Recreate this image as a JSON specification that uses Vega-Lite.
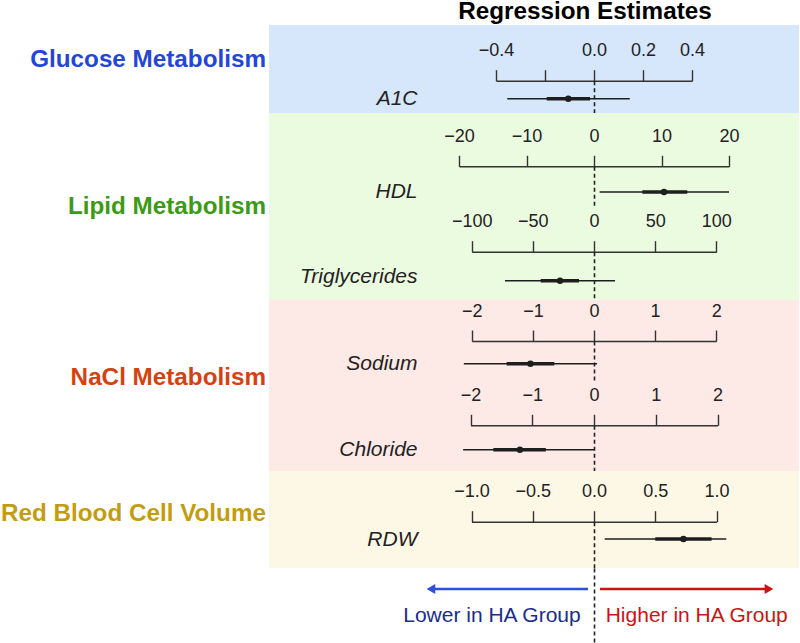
{
  "$schema": "https://vega.github.io/schema/vega-lite/v6.json",
  "autosize": {"type": "pad"},
  "padding": 0,
  "background": "white",
  "bounds": "flush",
  "spacing": 0,
  "title": {"text": "Regression Estimates", "orient": "top", "anchor": "middle", "frame": "group", "dx": 51, "offset": 0.75, "baseline": "top", "color": "#000000", "fontSize": 24.25, "fontWeight": "bold", "font": "Liberation Sans"},
  "vconcat": [
    {
      "width": 530, "height": 88,
      "view": {"fill": "#d6e6fb", "stroke": null},
      "data": {"values": [{"group": "Glucose Metabolism", "measure": "A1C", "lo": -0.354, "qlo": -0.193, "est": -0.105, "qhi": -0.016, "hi": 0.146}]},
      "encoding": {"y": {"field": "measure", "type": "nominal", "scale": {"type": "point", "range": [55.7, 88], "align": 0.557}, "axis": {"title": null}}},
      "layer": [
        {"mark": {"type": "rule", "strokeWidth": 1.5, "color": "#1e1e1e"}, "encoding": {"x": {"field": "lo", "type": "quantitative", "scale": {"domain": [-0.4, 0.4], "range": [227, 423], "nice": false, "zero": false}, "axis": {"orient": "top", "offset": -55.7, "values": [-0.4, -0.2, 0, 0.2, 0.4], "format": ".1f", "labelExpr": "abs(datum.value + 0.2) < 1e-6 ? '' : datum.label", "title": null}}, "x2": {"field": "hi"}}},
        {"mark": {"type": "rule", "strokeWidth": 3.5, "color": "#1e1e1e"}, "encoding": {"x": {"field": "qlo", "type": "quantitative", "axis": {"orient": "top", "offset": -55.7, "values": [-0.4, -0.2, 0, 0.2, 0.4], "format": ".1f", "labelExpr": "abs(datum.value + 0.2) < 1e-6 ? '' : datum.label", "title": null}}, "x2": {"field": "qhi"}}},
        {"mark": {"type": "circle", "size": 42, "opacity": 1, "color": "#1e1e1e"}, "encoding": {"x": {"field": "est", "type": "quantitative", "axis": {"orient": "top", "offset": -55.7, "values": [-0.4, -0.2, 0, 0.2, 0.4], "format": ".1f", "labelExpr": "abs(datum.value + 0.2) < 1e-6 ? '' : datum.label", "title": null}}}},
        {"mark": {"type": "text", "align": "right", "baseline": "middle", "fontSize": 24.25, "fontWeight": "bold", "color": "#2446d8", "dy": -38.7}, "encoding": {"text": {"field": "group"}, "x": {"datum": -1.3388, "type": "quantitative", "axis": {"orient": "top", "offset": -55.7, "values": [-0.4, -0.2, 0, 0.2, 0.4], "format": ".1f", "labelExpr": "abs(datum.value + 0.2) < 1e-6 ? '' : datum.label", "title": null}}}}
      ]
    },
    {
      "width": 530, "height": 93,
      "view": {"fill": "#ebfbe0", "stroke": null},
      "data": {"values": [{"group": "Lipid Metabolism", "measure": "HDL", "lo": 0.84, "qlo": 7.16, "est": 10.37, "qhi": 13.82, "hi": 20.0}]},
      "encoding": {"y": {"field": "measure", "type": "nominal", "scale": {"type": "point", "range": [53.3, 93], "align": 0.647}, "axis": {"title": null}}},
      "layer": [
        {"mark": {"type": "rule", "strokeWidth": 1.5, "color": "#1e1e1e"}, "encoding": {"x": {"field": "lo", "type": "quantitative", "scale": {"domain": [-20, 20], "range": [190, 460], "nice": false, "zero": false}, "axis": {"orient": "top", "offset": -53.3, "values": [-20, -10, 0, 10, 20], "format": "d", "title": null}}, "x2": {"field": "hi"}}},
        {"mark": {"type": "rule", "strokeWidth": 3.5, "color": "#1e1e1e"}, "encoding": {"x": {"field": "qlo", "type": "quantitative", "axis": {"orient": "top", "offset": -53.3, "values": [-20, -10, 0, 10, 20], "format": "d", "title": null}}, "x2": {"field": "qhi"}}},
        {"mark": {"type": "circle", "size": 42, "opacity": 1, "color": "#1e1e1e"}, "encoding": {"x": {"field": "est", "type": "quantitative", "axis": {"orient": "top", "offset": -53.3, "values": [-20, -10, 0, 10, 20], "format": "d", "title": null}}}},
        {"mark": {"type": "text", "align": "right", "baseline": "middle", "fontSize": 24.25, "fontWeight": "bold", "color": "#3c9b14", "dy": 15.5}, "encoding": {"text": {"field": "group"}, "x": {"datum": -48.59, "type": "quantitative", "axis": {"orient": "top", "offset": -53.3, "values": [-20, -10, 0, 10, 20], "format": "d", "title": null}}}}
      ]
    },
    {
      "width": 530, "height": 94,
      "view": {"fill": "#ebfbe0", "stroke": null},
      "data": {"values": [{"group": "Lipid Metabolism", "measure": "Triglycerides", "lo": -72.8, "qlo": -43.6, "est": -27.8, "qhi": -12.3, "hi": 17.2}]},
      "encoding": {"y": {"field": "measure", "type": "nominal", "scale": {"type": "point", "range": [45.7, 94], "align": 0.6}, "axis": {"title": null, "labelOffset": -4}}},
      "layer": [
        {"mark": {"type": "rule", "strokeWidth": 1.5, "color": "#1e1e1e"}, "encoding": {"x": {"field": "lo", "type": "quantitative", "scale": {"domain": [-100, 100], "range": [202.7, 447.3], "nice": false, "zero": false}, "axis": {"orient": "top", "offset": -45.7, "values": [-100, -50, 0, 50, 100], "format": "d", "title": null}}, "x2": {"field": "hi"}}},
        {"mark": {"type": "rule", "strokeWidth": 3.5, "color": "#1e1e1e"}, "encoding": {"x": {"field": "qlo", "type": "quantitative", "axis": {"orient": "top", "offset": -45.7, "values": [-100, -50, 0, 50, 100], "format": "d", "title": null}}, "x2": {"field": "qhi"}}},
        {"mark": {"type": "circle", "size": 42, "opacity": 1, "color": "#1e1e1e"}, "encoding": {"x": {"field": "est", "type": "quantitative", "axis": {"orient": "top", "offset": -45.7, "values": [-100, -50, 0, 50, 100], "format": "d", "title": null}}}}
      ]
    },
    {
      "width": 530, "height": 83,
      "view": {"fill": "#fde9e5", "stroke": null},
      "data": {"values": [{"group": "NaCl Metabolism", "measure": "Sodium", "lo": -2.13, "qlo": -1.43, "est": -1.04, "qhi": -0.65, "hi": 0.05}]},
      "encoding": {"y": {"field": "measure", "type": "nominal", "scale": {"type": "point", "range": [41, 83], "align": 0.54}, "axis": {"title": null}}},
      "layer": [
        {"mark": {"type": "rule", "strokeWidth": 1.5, "color": "#1e1e1e"}, "encoding": {"x": {"field": "lo", "type": "quantitative", "scale": {"domain": [-2, 2], "range": [202.8, 447.2], "nice": false, "zero": false}, "axis": {"orient": "top", "offset": -41, "values": [-2, -1, 0, 1, 2], "format": "d", "title": null}}, "x2": {"field": "hi"}}},
        {"mark": {"type": "rule", "strokeWidth": 3.5, "color": "#1e1e1e"}, "encoding": {"x": {"field": "qlo", "type": "quantitative", "axis": {"orient": "top", "offset": -41, "values": [-2, -1, 0, 1, 2], "format": "d", "title": null}}, "x2": {"field": "qhi"}}},
        {"mark": {"type": "circle", "size": 42, "opacity": 1, "color": "#1e1e1e"}, "encoding": {"x": {"field": "est", "type": "quantitative", "axis": {"orient": "top", "offset": -41, "values": [-2, -1, 0, 1, 2], "format": "d", "title": null}}}},
        {"mark": {"type": "text", "align": "right", "baseline": "middle", "fontSize": 24.25, "fontWeight": "bold", "color": "#d3420f", "dy": 14.6}, "encoding": {"text": {"field": "group"}, "x": {"datum": -5.368, "type": "quantitative", "axis": {"orient": "top", "offset": -41, "values": [-2, -1, 0, 1, 2], "format": "d", "title": null}}}}
      ]
    },
    {
      "width": 530, "height": 88,
      "view": {"fill": "#fde9e5", "stroke": null},
      "data": {"values": [{"group": "NaCl Metabolism", "measure": "Chloride", "lo": -2.12, "qlo": -1.63, "est": -1.2, "qhi": -0.78, "hi": 0.0}]},
      "encoding": {"y": {"field": "measure", "type": "nominal", "scale": {"type": "point", "range": [42.3, 88], "align": 0.534}, "axis": {"title": null}}},
      "layer": [
        {"mark": {"type": "rule", "strokeWidth": 1.5, "color": "#1e1e1e"}, "encoding": {"x": {"field": "lo", "type": "quantitative", "scale": {"domain": [-2, 2], "range": [201.5, 448.5], "nice": false, "zero": false}, "axis": {"orient": "top", "offset": -42.3, "values": [-2, -1, 0, 1, 2], "format": "d", "title": null}}, "x2": {"field": "hi"}}},
        {"mark": {"type": "rule", "strokeWidth": 3.5, "color": "#1e1e1e"}, "encoding": {"x": {"field": "qlo", "type": "quantitative", "axis": {"orient": "top", "offset": -42.3, "values": [-2, -1, 0, 1, 2], "format": "d", "title": null}}, "x2": {"field": "qhi"}}},
        {"mark": {"type": "circle", "size": 42, "opacity": 1, "color": "#1e1e1e"}, "encoding": {"x": {"field": "est", "type": "quantitative", "axis": {"orient": "top", "offset": -42.3, "values": [-2, -1, 0, 1, 2], "format": "d", "title": null}}}}
      ]
    },
    {
      "width": 530, "height": 97,
      "view": {"fill": "#fdf8e5", "stroke": null},
      "data": {"values": [{"group": "Red Blood Cell Volume", "measure": "RDW", "lo": 0.087, "qlo": 0.5, "est": 0.73, "qhi": 0.96, "hi": 1.08}]},
      "encoding": {"y": {"field": "measure", "type": "nominal", "scale": {"type": "point", "range": [50.7, 97], "align": 0.374}, "axis": {"title": null}}},
      "layer": [
        {"mark": {"type": "rule", "strokeWidth": 1.5, "color": "#1e1e1e"}, "encoding": {"x": {"field": "lo", "type": "quantitative", "scale": {"domain": [-1, 1], "range": [202.5, 447.5], "nice": false, "zero": false}, "axis": {"orient": "top", "offset": -50.7, "values": [-1, -0.5, 0, 0.5, 1], "format": ".1f", "title": null}}, "x2": {"field": "hi"}}},
        {"mark": {"type": "rule", "strokeWidth": 3.5, "color": "#1e1e1e"}, "encoding": {"x": {"field": "qlo", "type": "quantitative", "axis": {"orient": "top", "offset": -50.7, "values": [-1, -0.5, 0, 0.5, 1], "format": ".1f", "title": null}}, "x2": {"field": "qhi"}}},
        {"mark": {"type": "circle", "size": 42, "opacity": 1, "color": "#1e1e1e"}, "encoding": {"x": {"field": "est", "type": "quantitative", "axis": {"orient": "top", "offset": -50.7, "values": [-1, -0.5, 0, 0.5, 1], "format": ".1f", "title": null}}}},
        {"mark": {"type": "text", "align": "right", "baseline": "middle", "fontSize": 24.25, "fontWeight": "bold", "color": "#c49c12", "dy": -25}, "encoding": {"text": {"field": "group"}, "x": {"datum": -2.678, "type": "quantitative", "axis": {"orient": "top", "offset": -50.7, "values": [-1, -0.5, 0, 0.5, 1], "format": ".1f", "title": null}}}}
      ]
    },
    {
      "width": 530, "height": 75,
      "view": {"fill": null, "stroke": null},
      "data": {"values": [{"side": "Lower in HA Group", "dir": -1}, {"side": "Higher in HA Group", "dir": 1}]},
      "layer": [
        {"transform": [{"filter": "datum.dir < 0"}], "mark": {"type": "rule", "color": "#2b50e0", "strokeWidth": 2.6}, "encoding": {"x": {"datum": -0.033, "type": "quantitative", "scale": {"domain": [-1, 1], "range": [145, 505], "nice": false, "zero": false}, "axis": null}, "x2": {"datum": -0.9}, "y": {"datum": 0.28, "type": "quantitative", "scale": {"domain": [0, 1], "range": [0, 75], "nice": false, "zero": false}, "axis": {"labels": false, "title": null}}}},
        {"transform": [{"filter": "datum.dir < 0"}], "mark": {"type": "point", "shape": "triangle-left", "filled": true, "size": 100, "opacity": 1, "color": "#2b50e0"}, "encoding": {"x": {"datum": -0.906, "type": "quantitative", "axis": null}, "y": {"datum": 0.28, "type": "quantitative", "axis": {"labels": false, "title": null}}}},
        {"transform": [{"filter": "datum.dir < 0"}], "mark": {"type": "text", "align": "right", "baseline": "middle", "fontSize": 21, "color": "#1b2d8e"}, "encoding": {"text": {"field": "side"}, "x": {"datum": -0.074, "type": "quantitative", "axis": null}, "y": {"datum": 0.64, "type": "quantitative", "axis": {"labels": false, "title": null}}}},
        {"transform": [{"filter": "datum.dir > 0"}], "mark": {"type": "rule", "color": "#cc1212", "strokeWidth": 2.6}, "encoding": {"x": {"datum": 0.033, "type": "quantitative", "axis": null}, "x2": {"datum": 0.97}, "y": {"datum": 0.28, "type": "quantitative", "axis": {"labels": false, "title": null}}}},
        {"transform": [{"filter": "datum.dir > 0"}], "mark": {"type": "point", "shape": "triangle-right", "filled": true, "size": 100, "opacity": 1, "color": "#cc1212"}, "encoding": {"x": {"datum": 0.972, "type": "quantitative", "axis": null}, "y": {"datum": 0.28, "type": "quantitative", "axis": {"labels": false, "title": null}}}},
        {"transform": [{"filter": "datum.dir > 0"}], "mark": {"type": "text", "align": "left", "baseline": "middle", "fontSize": 21, "color": "#cc1414"}, "encoding": {"text": {"field": "side"}, "x": {"datum": 0.065, "type": "quantitative", "axis": null}, "y": {"datum": 0.64, "type": "quantitative", "axis": {"labels": false, "title": null}}}}
      ]
    }
  ],
  "config": {
    "font": "Liberation Sans",
    "view": {"stroke": null},
    "text": {"font": "Liberation Sans"},
    "axisX": {"grid": false, "tickSize": 11, "tickWidth": 1.4, "tickColor": "#333333", "domainColor": "#333333", "domainWidth": 1.4, "labelPadding": 10, "labelFont": "Liberation Sans", "labelFontSize": 18, "labelColor": "#222222", "labelFlush": false, "labelOverlap": false, "labelBound": false},
    "axisY": {"grid": false, "offset": -325, "domainDash": [4, 3], "domainColor": "#222222", "domainWidth": 1.6, "ticks": false, "labelPadding": 177, "labelFont": "Liberation Sans", "labelFontSize": 21, "labelFontStyle": "italic", "labelColor": "#222222", "labelAngle": 0, "labelAlign": "right", "labelBaseline": "middle"}
  }
}
